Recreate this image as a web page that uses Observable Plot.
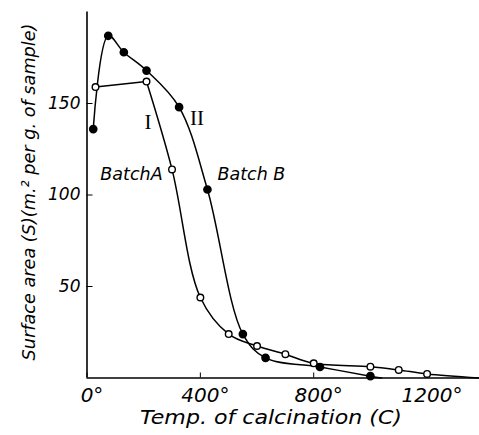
<!DOCTYPE html>
<html><head><meta charset="utf-8">
<script src="https://cdn.jsdelivr.net/npm/d3@7"></script>
<script src="https://cdn.jsdelivr.net/npm/@observablehq/plot@0.6"></script>
<style>
body{margin:0;background:#fff}
#chart svg{font-family:"DejaVu Sans",sans-serif;background:#fff}
</style>
</head><body><div id="chart"></div>
<script>
// Batch A (curve I, open circles)
const batchATemp = [30, 210, 300, 400, 500, 600, 700, 800, 1000, 1100, 1200, 1385];
const batchAArea = [159, 162, 114, 44, 24, 17.5, 13, 8, 6.2, 4.4, 2.2, 0];
const batchAMarked = [true, true, true, true, true, true, true, true, true, true, true, false];
// Batch B (curve II, filled circles)
const batchBTemp = [22, 75, 130, 210, 325, 425, 550, 630, 822, 1000, 1040];
const batchBArea = [136, 187, 178, 168, 148, 103, 24, 11, 6, 1, 0];
const batchBMarked = [true, true, true, true, true, true, true, true, true, true, false];
// axis ticks
const xTicks = [0, 400, 800, 1200];
const yTicks = [50, 100, 150];
// annotations
const labelText = ["I", "II", "BatchA", "Batch B"];
const labelTemp = [215, 388, 157, 580];
const labelArea = [140, 142, 111, 111];
const labelFont = ["serif", "serif", "sans", "sans"];

const A = batchATemp.map((t, i) => ({t, s: batchAArea[i], m: batchAMarked[i], i}));
const B = batchBTemp.map((t, i) => ({t, s: batchBArea[i], m: batchBMarked[i], i}));
const labels = labelText.map((text, i) => ({text, t: labelTemp[i], s: labelArea[i], f: labelFont[i]}));

const chart = Plot.plot({
  width: 479,
  height: 435,
  marginLeft: 86.5,
  marginRight: 0,
  marginTop: 11.5,
  marginBottom: 57.5,
  x: {domain: [0, 1385]},
  y: {domain: [0, 200]},
  style: {fontFamily: "DejaVu Sans", color: "#000"},
  marks: [
    Plot.ruleX([0], {stroke: "#000", strokeWidth: 1.6}),
    Plot.ruleY([0], {stroke: "#000", strokeWidth: 1.6}),
    Plot.axisX({ticks: xTicks, tickSize: -5, tickFormat: () => "", label: null}),
    Plot.axisX({ticks: xTicks, tickSize: 0, tickPadding: 10, dx: 5, tickFormat: d => d + "°",
      fontSize: 20, fontStyle: "italic", label: null}),
    Plot.axisY({ticks: yTicks, tickSize: -6, tickPadding: 12.5, fontSize: 17, fontStyle: "italic", label: null}),
    Plot.lineY(A.filter(d => d.i <= 1), {x: "t", y: "s", stroke: "#000", strokeWidth: 1.5}),
    Plot.lineY(A.filter(d => d.i >= 1), {x: "t", y: "s", stroke: "#000", strokeWidth: 1.5, curve: "catmull-rom"}),
    Plot.lineY(B, {x: "t", y: "s", stroke: "#000", strokeWidth: 1.5, curve: "catmull-rom"}),
    Plot.dot(A.filter(d => d.m), {x: "t", y: "s", r: 3.3, fill: "#fff", stroke: "#000", strokeWidth: 1.4}),
    Plot.dot(B.filter(d => d.m), {x: "t", y: "s", r: 3.6, fill: "#000", stroke: "#000"}),
    Plot.text(labels.filter(d => d.f === "serif"), {x: "t", y: "s", text: "text", fontSize: 21,
      fontFamily: "Liberation Serif", fill: "#000"}),
    Plot.text(labels.filter(d => d.f === "sans"), {x: "t", y: "s", text: "text", fontSize: 17.5,
      fontStyle: "italic", fill: "#000"})
  ]
});

const svg = d3.select(chart);
svg.append("text")
  .attr("x", 271).attr("y", 418)
  .attr("text-anchor", "middle").attr("dominant-baseline", "middle")
  .attr("font-size", 19).attr("font-style", "italic").attr("fill", "#000")
  .attr("textLength", 262).attr("lengthAdjust", "spacingAndGlyphs")
  .text("Temp. of calcination (C)");
svg.append("text")
  .attr("transform", "translate(30,192) rotate(-90)")
  .attr("text-anchor", "middle").attr("dominant-baseline", "middle")
  .attr("font-size", 18.5).attr("font-style", "italic").attr("fill", "#000")
  .attr("textLength", 337).attr("lengthAdjust", "spacingAndGlyphs")
  .text("Surface area (S)(m.² per g. of sample)");

document.getElementById("chart").appendChild(chart);
</script>
</body></html>
